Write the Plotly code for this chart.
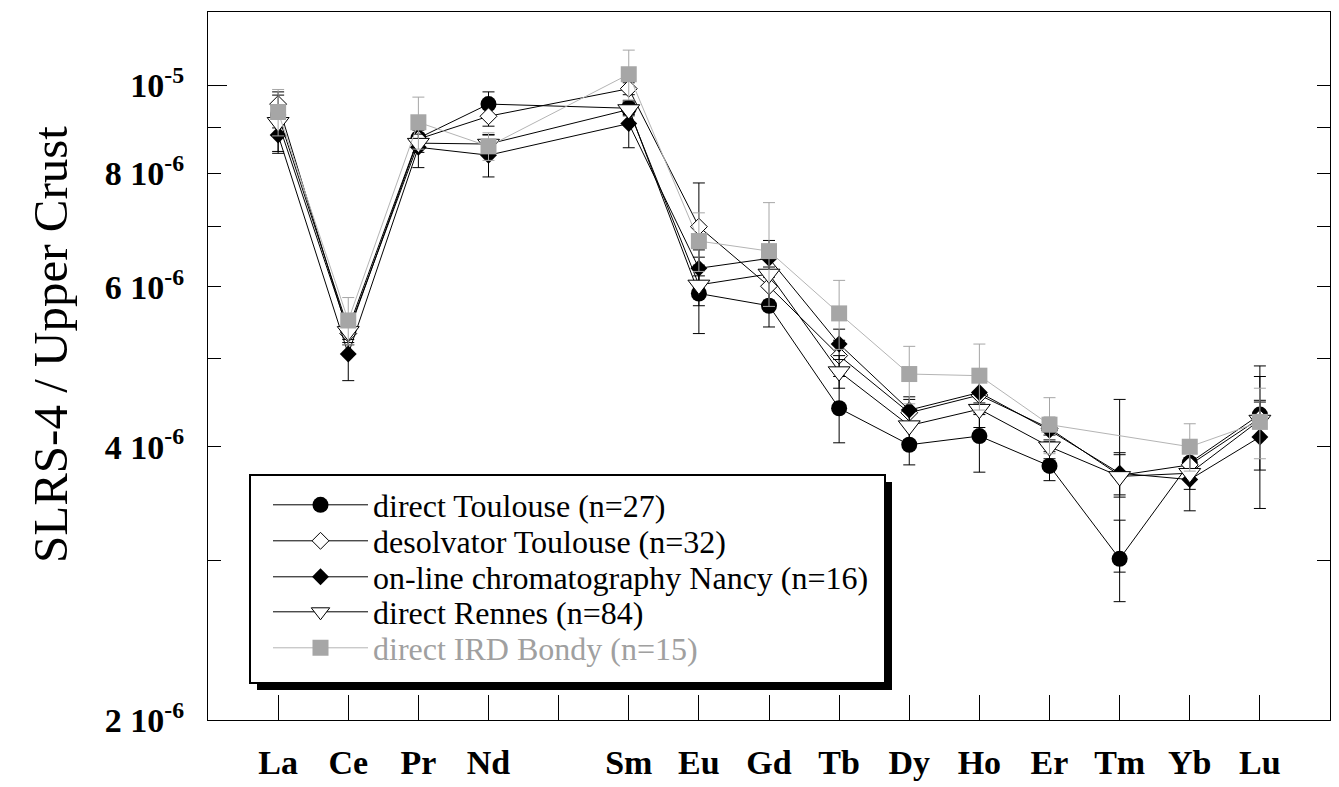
import math
import plotly.graph_objects as go

# ---------------- data (units of 1e-6) ----------------
SCALE = 1e-6
axis_categories = ["La", "Ce", "Pr", "Nd", "Pm", "Sm", "Eu", "Gd", "Tb", "Dy", "Ho", "Er", "Tm", "Yb", "Lu"]
tick_labels = ["La", "Ce", "Pr", "Nd", "", "Sm", "Eu", "Gd", "Tb", "Dy", "Ho", "Er", "Tm", "Yb", "Lu"]
elements = ["La", "Ce", "Pr", "Nd", "Sm", "Eu", "Gd", "Tb", "Dy", "Ho", "Er", "Tm", "Yb", "Lu"]

direct_toulouse = [9.28, 5.40, 8.75, 9.54, 9.44, 5.90, 5.72, 4.41, 4.02, 4.11, 3.81, 3.01, 3.84, 4.34]
direct_toulouse_err = [0.30, 0.15, 0.20, 0.30, 0.15, 0.57, 0.30, 0.37, 0.20, 0.36, 0.14, 0.31, 0.15, 0.57]

desolvator_toulouse = [9.54, 5.33, 8.73, 9.25, 9.92, 6.99, 6.01, 5.04, 4.36, 4.56, 4.19, 3.72, 3.82, 4.30]
desolvator_toulouse_err = [0.30, 0.15, 0.20, 0.23, 0.15, 0.82, 0.30, 0.20, 0.15, 0.20, 0.12, 0.20, 0.15, 0.20]

nancy = [8.82, 5.06, 8.55, 8.38, 9.08, 6.29, 6.45, 5.19, 4.39, 4.59, 4.17, 3.74, 3.68, 4.10]
nancy_err = [0.40, 0.33, 0.43, 0.45, 0.54, 0.30, 0.30, 0.20, 0.15, 0.25, 0.12, 0.20, 0.28, 0.68]

rennes = [9.11, 5.36, 8.64, 8.62, 9.41, 6.03, 6.20, 4.84, 4.22, 4.40, 4.00, 3.71, 3.74, 4.28]
rennes_err = [0.65, 0.15, 0.20, 0.20, 0.15, 0.31, 0.40, 0.20, 0.15, 0.20, 0.12, 0.80, 0.15, 0.20]

bondy = [9.35, 5.51, 9.11, 8.57, 10.29, 6.74, 6.57, 5.61, 4.81, 4.79, 4.23, None, 4.00, 4.26]
bondy_err = [0.55, 0.33, 0.60, 0.30, 0.65, 0.50, 0.86, 0.49, 0.35, 0.40, 0.30, None, 0.24, 0.38]

y_tick_values = [2, 3, 4, 5, 6, 7, 8, 9, 10]
y_tick_texts = ["2 10<sup>-6</sup>", "", "4 10<sup>-6</sup>", "", "6 10<sup>-6</sup>", "",
                "8 10<sup>-6</sup>", "", "10<sup>-5</sup>"]

# ---------------- layout geometry ----------------
# the page body has an 8px margin; the figure is sized so it fits the 1339x787 window
BODY = 8
FIG_W, FIG_H = 1339 - BODY, 787 - BODY
M_L, M_R, M_T, M_B = 200, 9, 4, 67
PLOT_W = FIG_W - M_L - M_R
PLOT_H = FIG_H - M_T - M_B
Y_MIN, Y_MAX = -5.699, -4.919


def px_x(px):  # page pixel -> paper x
    return (px - BODY - M_L) / PLOT_W


def px_y(py):  # page pixel -> paper y
    return (FIG_H - M_B + BODY - py) / PLOT_H


GRAY = "#a6a6a6"
GRAY_LINE = "#b4b4b4"
FONT = "Liberation Serif"

x_pos = [axis_categories.index(e) for e in elements]


def scaled(vals):
    return [None if v is None else v * SCALE for v in vals]


series = [
    ("direct Toulouse (n=27)", direct_toulouse, direct_toulouse_err,
     dict(symbol="circle", size=16, color="black"), "black", "black"),
    ("desolvator Toulouse (n=32)", desolvator_toulouse, desolvator_toulouse_err,
     dict(symbol="diamond", size=13, color="white", line=dict(color="black", width=1)), "black", "black"),
    ("on-line chromatography Nancy (n=16)", nancy, nancy_err,
     dict(symbol="diamond", size=13, color="black"), "black", "black"),
    ("direct Rennes (n=84)", rennes, rennes_err,
     dict(symbol="triangle-down", size=19, color="white", line=dict(color="black", width=1)), "black", "black"),
    ('<span style="color:#a0a0a0">direct IRD Bondy (n=15)</span>', bondy, bondy_err,
     dict(symbol="square", size=16, color=GRAY, line=dict(width=0)), GRAY_LINE, GRAY),
]
legend_ids = ["legend", "legend2", "legend3", "legend4", "legend5"]
legend_row_px = [505, 541, 577, 612, 648]

fig = go.Figure()
for (name, vals, errs, marker, lcolor, ecolor), lid in zip(series, legend_ids):
    fig.add_trace(go.Scatter(
        x=x_pos, y=scaled(vals), name=name, mode="lines+markers",
        connectgaps=True, legend=lid,
        line=dict(color=lcolor, width=1),
        marker=marker,
        error_y=dict(type="data", array=[0 if e is None else e * SCALE for e in errs],
                     color=ecolor, thickness=1, width=6),
    ))

# legend frame with drop shadow
box_l, box_r, box_t, box_b = 250, 885, 475, 683
sh = 7
fig.add_shape(type="rect", xref="paper", yref="paper", layer="above",
              x0=px_x(box_l + sh), x1=px_x(box_r + sh), y0=px_y(box_b + sh), y1=px_y(box_t + sh),
              fillcolor="black", line=dict(width=0))
fig.add_shape(type="rect", xref="paper", yref="paper", layer="above",
              x0=px_x(box_l), x1=px_x(box_r), y0=px_y(box_b), y1=px_y(box_t),
              fillcolor="white", line=dict(color="black", width=2))

# longer major tick at 10^-5
y_major = (math.log10(10 * SCALE) - Y_MIN) / (Y_MAX - Y_MIN)
fig.add_shape(type="line", xref="paper", yref="paper", layer="above",
              x0=0, x1=19 / PLOT_W, y0=y_major, y1=y_major, line=dict(color="black", width=1))

legend_layouts = {}
for lid, row in zip(legend_ids, legend_row_px):
    legend_layouts[lid] = dict(
        x=px_x(268), y=px_y(row), xanchor="left", yanchor="middle",
        bgcolor="rgba(0,0,0,0)", borderwidth=0,
        font=dict(family=FONT, size=32, color="black"),
        itemwidth=95,
    )

fig.update_layout(
    width=FIG_W, height=FIG_H, autosize=False,
    margin=dict(l=M_L, r=M_R, t=M_T, b=M_B),
    paper_bgcolor="white", plot_bgcolor="white",
    font=dict(family=FONT, color="black"),
    showlegend=True,
    **legend_layouts,
)

fig.update_xaxes(
    automargin=False,
    range=[-1, len(axis_categories)],
    tickmode="array", tickvals=list(range(len(axis_categories))), ticktext=tick_labels,
    ticks="inside", ticklen=25, tickwidth=1, tickcolor="black",
    showline=True, linecolor="black", linewidth=1, mirror=True,
    showgrid=False, zeroline=False,
    tickfont=dict(family=FONT, size=34, color="black", weight="bold"),
    ticklabelstandoff=12,
)

fig.update_yaxes(
    automargin=False,
    type="log",
    range=[Y_MIN, Y_MAX],
    tickmode="array", tickvals=[v * SCALE for v in y_tick_values], ticktext=y_tick_texts,
    ticks="inside", ticklen=13, tickwidth=1, tickcolor="black",
    showline=True, linecolor="black", linewidth=1, mirror="ticks",
    showgrid=False, zeroline=False,
    tickfont=dict(family=FONT, size=34, color="black", weight="bold"),
    ticklabelstandoff=16,
)

fig.add_annotation(
    text="SLRS-4 / Upper Crust", textangle=-90,
    xref="paper", yref="paper", x=px_x(50), y=px_y(345),
    xanchor="center", yanchor="middle", showarrow=False,
    font=dict(family=FONT, size=49, color="black"),
)

fig.write_html("out.html")
